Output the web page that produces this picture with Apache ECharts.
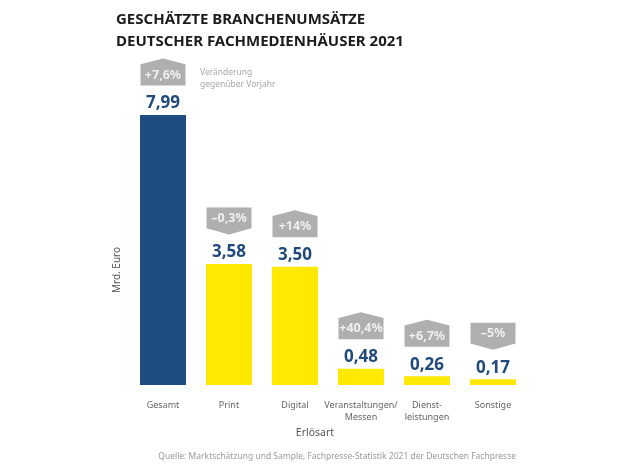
<!DOCTYPE html>
<html>
<head>
    <meta charset="utf-8">
    <title>Branchenumsätze Fachmedienhäuser 2021</title>
    <script src="https://cdn.jsdelivr.net/npm/echarts@6/dist/echarts.min.js"></script>
    <style>
        html, body { margin: 0; padding: 0; background: #fff; }
        #chart { width: 630px; height: 472px; }
    </style>
</head>
<body>
<div id="chart"></div>
<script>
    // Daten
    var categories = ['Gesamt', 'Print', 'Digital', 'Veranstaltungen/\nMessen', 'Dienst-\nleistungen', 'Sonstige'];
    var umsatz = [7.99, 3.58, 3.50, 0.48, 0.26, 0.17];
    var veraenderung = ['+7,6%', '–0,3%', '+14%', '+40,4%', '+6,7%', '–5%'];

    var pfeilHoch = 'path://M0,6 L22,0 L44,6 L44,28 L0,28 Z';
    var pfeilRunter = 'path://M0,0 L44,0 L44,20 L22,26 L0,20 Z';

    var myChart = echarts.init(document.getElementById('chart'));

    var badgeData = umsatz.map(function (v, i) {
        var hoch = veraenderung[i].charAt(0) === '+';
        return {
            value: v,
            symbol: hoch ? pfeilHoch : pfeilRunter,
            label: { offset: [0, hoch ? 3 : -3] }
        };
    });

    option = {
        animation: false,
        textStyle: { fontFamily: 'Noto Sans' },
        title: {
            text: 'GESCHÄTZTE BRANCHENUMSÄTZE\nDEUTSCHER FACHMEDIENHÄUSER 2021',
            left: 111,
            top: 4,
            textStyle: {
                fontSize: 15,
                fontWeight: 'bold',
                color: '#1c1c1c',
                lineHeight: 22,
                fontFamily: 'Noto Sans'
            }
        },
        graphic: [
            {
                type: 'text',
                left: 200,
                top: 67,
                style: {
                    text: 'Veränderung\ngegenüber Vorjahr',
                    fill: '#a8a8a8',
                    font: '8.5px "Noto Sans"',
                    lineHeight: 12
                }
            },
            {
                type: 'text',
                x: 117,
                y: 270,
                rotation: Math.PI / 2,
                style: {
                    text: 'Mrd. Euro',
                    fill: '#555',
                    font: '10px "Noto Sans"',
                    align: 'center',
                    verticalAlign: 'middle'
                }
            },
            {
                type: 'text',
                right: 114,
                top: 452,
                style: {
                    text: 'Quelle: Marktschätzung und Sample, Fachpresse-Statistik 2021 der Deutschen Fachpresse',
                    fill: '#9a9a9a',
                    font: '8.5px "Noto Sans"'
                }
            }
        ],
        grid: {
            left: 130,
            right: 104,
            top: 47,
            bottom: 87
        },
        xAxis: {
            type: 'category',
            data: categories,
            axisLine: { show: false },
            axisTick: { show: false },
            axisLabel: {
                interval: 0,
                color: '#666',
                fontSize: 9,
                margin: 14,
                lineHeight: 12
            },
            name: 'Erlösart',
            nameLocation: 'middle',
            nameGap: 37,
            nameTextStyle: {
                color: '#555',
                fontSize: 10.5,
                padding: [0, 26, 0, 0]
            }
        },
        yAxis: {
            type: 'value',
            min: 0,
            max: 10,
            show: false
        },
        series: [
            {
                name: 'Umsatz',
                type: 'bar',
                barWidth: 46,
                data: umsatz,
                itemStyle: {
                    color: function (p) {
                        return p.dataIndex === 0 ? '#1f4c7e' : '#ffe900';
                    }
                },
                label: {
                    show: true,
                    position: 'top',
                    distance: 3,
                    color: '#1f4a7a',
                    fontSize: 17,
                    fontWeight: 'bold',
                    formatter: function (p) {
                        return p.value.toFixed(2).replace('.', ',');
                    }
                }
            },
            {
                name: 'Veränderung',
                type: 'scatter',
                data: badgeData,
                symbolSize: [45, 27],
                symbolOffset: [0, -43],
                itemStyle: { color: '#9b9b9b' },
                z: 3,
                label: {
                    show: true,
                    position: 'inside',
                    color: '#fff',
                    fontSize: 12.5,
                    fontWeight: 'bold',
                    formatter: function (p) {
                        return veraenderung[p.dataIndex];
                    }
                }
            }
        ]
    };
    myChart.setOption(option);
</script>
</body>
</html>
